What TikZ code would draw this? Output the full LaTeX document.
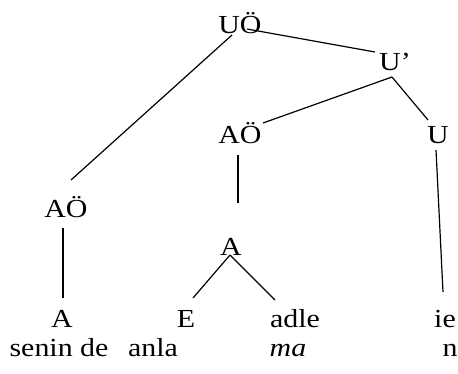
\documentclass[tikz,border=0pt]{standalone}
\usepackage{fontspec}
\setmainfont{Liberation Serif}
\usetikzlibrary{positioning}
\tikzset{
  cat/.style={font=\fontsize{26}{30}\selectfont, xscale=1.15, inner sep=0pt, anchor=base},
  branch/.style={line width=1.2pt}
}

\begin{document}
\begin{tikzpicture}[x=1pt,y=-1pt]
\useasboundingbox (0,0) rectangle (458,373);
% tree labels
\node[cat] (uo) at (240,33) {UÖ};
\node[cat] (ubar) at (395,70) {U'};
\node[cat] (aom) at (240,143) {AÖ};
\node[cat] (u) at (438,143) {U};
\node[cat] (aol) at (66,217) {AÖ};
\node[cat] (am) at (231,255) {A};
\node[cat] (al) at (62,327) {A};
\node[cat] (e) at (186,327) {E};
\node[cat] (adle) at (295,327) {adle};
\node[cat] (ie) at (445,327) {ie};
% words
\node[cat] (senin) at (59,356) {senin de};
\node[cat] (anla) at (153,356) {anla};
\node[cat] (ma) at (288,356) {\textit{ma}};
\node[cat] (n) at (450,356) {n};
% branches
\draw[branch] ([xshift=7pt,yshift=4pt]uo.base) -- ([xshift=-20pt,yshift=18pt]ubar.base);
\draw[branch] ([xshift=-8pt,yshift=-2pt]uo.base) -- ([xshift=5pt,yshift=37pt]aol.base);
\draw[branch] ([xshift=-3pt,yshift=-7pt]ubar.base) -- ([xshift=23pt,yshift=20pt]aom.base);
\draw[branch] ([xshift=-3pt,yshift=-7pt]ubar.base) -- ([xshift=-10pt,yshift=23pt]u.base);
\draw[branch] ([xshift=-2pt,yshift=-12pt]aom.base) -- ([xshift=7pt,yshift=52pt]am.base);
\draw[branch] ([xshift=-2pt,yshift=-7pt]u.base) -- ([xshift=-2pt,yshift=35pt]ie.base);
\draw[branch] ([xshift=-3pt,yshift=-11pt]aol.base) -- ([xshift=1pt,yshift=29pt]al.base);
\draw[branch] ([xshift=-1pt]am.base) -- ([xshift=7pt,yshift=29pt]e.base);
\draw[branch] ([xshift=-1pt]am.base) -- ([xshift=-20pt,yshift=27pt]adle.base);
\end{tikzpicture}
\end{document}
